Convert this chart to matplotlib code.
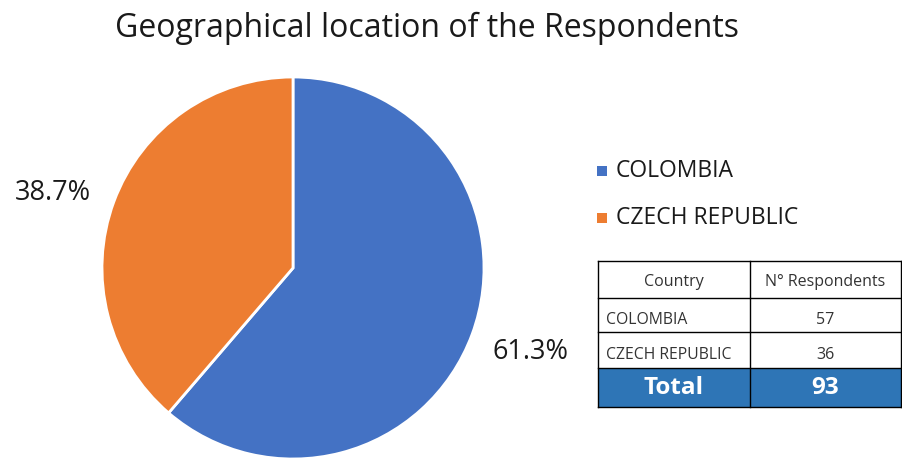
import matplotlib
matplotlib.use("Agg")
import matplotlib.pyplot as plt
from matplotlib.patches import Rectangle

plt.rcParams['font.family'] = ['Open Sans', 'DejaVu Sans']

countries = ["COLOMBIA", "CZECH REPUBLIC"]
respondents = [57, 36]
colors = ["#4472C4", "#ED7D31"]
title = "Geographical location of the Respondents"

W, H = 902, 459
fig = plt.figure(figsize=(W/100, H/100), dpi=100)

# Pie
cx, cy, r = 293, 268, 191
ax = fig.add_axes([(cx - r)/W, (H - cy - r)/H, 2*r/W, 2*r/H])
total = sum(respondents)
wedges, _ = ax.pie(respondents, colors=colors, startangle=90, counterclock=False,
                   wedgeprops=dict(edgecolor="white", linewidth=2))
ax.set_xlim(-1, 1); ax.set_ylim(-1, 1)
ax.set_aspect('equal')

# overlay axes in pixel coordinates
ov = fig.add_axes([0, 0, 1, 1])
ov.set_xlim(0, W); ov.set_ylim(H, 0)
ov.axis('off')

ov.text(427, 28, title, ha='center', va='center', fontsize=23, color='#1a1a1a')

pcts = [v / total * 100 for v in respondents]
ov.text(530, 352, f"{pcts[0]:.1f}%", ha='center', va='center', fontsize=19.5, color='#1a1a1a')
ov.text(53, 193, f"{pcts[1]:.1f}%", ha='center', va='center', fontsize=19.5, color='#1a1a1a')

# legend
for i, (c, col) in enumerate(zip(countries, colors)):
    y = 171 + i * 47
    ov.add_patch(Rectangle((597, y - 5), 10, 10, facecolor=col, edgecolor='none'))
    ov.text(616, y, c, ha='left', va='center', fontsize=16.5, color='#1a1a1a')

# table
x0, x1, x2 = 598, 750, 901
rows = [261, 298, 332, 368, 407]
ov.add_patch(Rectangle((x0, rows[3]), x2 - x0, rows[4] - rows[3], facecolor='#2E75B6', edgecolor='none'))
for yy in rows:
    ov.plot([x0, x2], [yy, yy], color='black', lw=1)
for xx in (x0, x1, x2):
    ov.plot([xx, xx], [rows[0], rows[4]], color='black', lw=1)

ov.text((x0 + x1)/2, (rows[0] + rows[1])/2 + 2, "Country", ha='center', va='center', fontsize=11.5, color='#333333')
ov.text((x1 + x2)/2, (rows[0] + rows[1])/2 + 2, "N° Respondents", ha='center', va='center', fontsize=11.5, color='#333333')
for i, (c, v) in enumerate(zip(countries, respondents)):
    ymid = rows[i + 1] + (rows[i + 2] - rows[i + 1]) * 0.65
    ov.text(x0 + 8, ymid, c, ha='left', va='center', fontsize=11.3, color='#333333')
    ov.text((x1 + x2)/2, ymid, str(v), ha='center', va='center', fontsize=11.5, color='#333333')
ov.text((x0 + x1)/2, (rows[3] + rows[4])/2, "Total", ha='center', va='center', fontsize=17.5, fontweight='bold', color='white')
ov.text((x1 + x2)/2, (rows[3] + rows[4])/2, str(total), ha='center', va='center', fontsize=17.5, fontweight='bold', color='white')

fig.savefig("out.png", dpi=100)
